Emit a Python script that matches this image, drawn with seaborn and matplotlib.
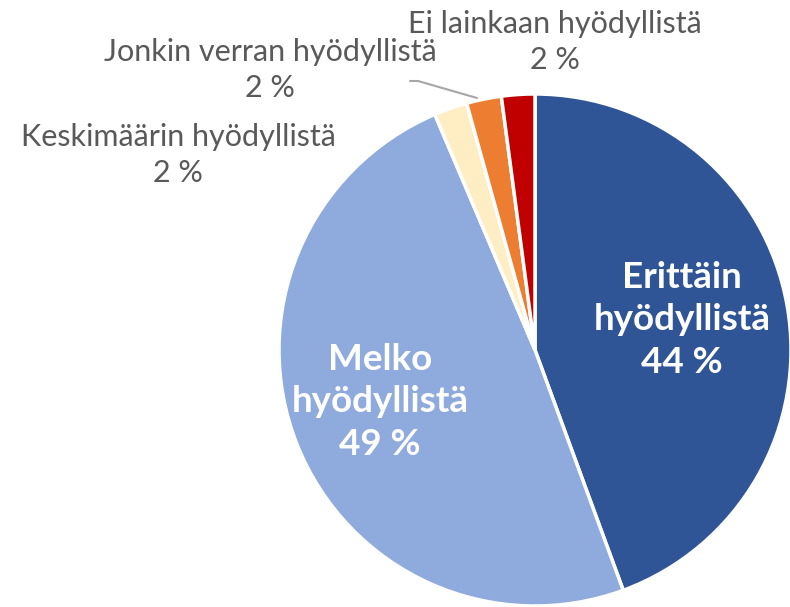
import matplotlib
matplotlib.use("Agg")
import matplotlib.pyplot as plt
import seaborn as sns

categories = ["Erittäin hyödyllistä", "Melko hyödyllistä", "Keskimäärin hyödyllistä",
              "Jonkin verran hyödyllistä", "Ei lainkaan hyödyllistä"]
values = [44.4, 49.2, 2.1, 2.2, 2.1]
colors = ["#2F5597", "#8FAADC", "#FFEEC4", "#ED7D31", "#C00000"]

sns.set_theme(style="white")
plt.rcParams["font.family"] = ["Lato", "DejaVu Sans"]

W, H = 790, 607
fig = plt.figure(figsize=(W / 100, H / 100), dpi=100)
ax = fig.add_axes([0, 0, 1, 1])

CX, CY, R = 535, 350, 256
def px(x, y):
    return (x - CX) / R, (CY - y) / R

ax.pie(values, colors=colors, startangle=90, counterclock=False, radius=1,
       center=(0, 0), wedgeprops=dict(edgecolor="white", linewidth=2.5))
ax.set_xlim((0 - CX) / R, (W - CX) / R)
ax.set_ylim((CY - H) / R, CY / R)
ax.set_aspect("auto")
ax.axis("off")

pct = [f"{round(v)} %" for v in values]

# inside labels (bold white)
inside = {0: ("Erittäin\nhyödyllistä", 682, 320), 1: ("Melko\nhyödyllistä", 380, 402)}
for i, (txt, x, y) in inside.items():
    ax.text(*px(x, y), f"{txt}\n{pct[i]}", color="white", fontsize=26.5,
            fontweight="bold", ha="center", va="center", linespacing=1.35)

# outside labels (gray)
outside = {2: ("Keskimäärin hyödyllistä", 178, 155),
           3: ("Jonkin verran hyödyllistä", 270, 70),
           4: ("Ei lainkaan hyödyllistä", 555, 42)}
for i, (txt, x, y) in outside.items():
    ax.text(*px(x, y), f"{txt}\n{pct[i]}", color="#595959", fontsize=22,
            ha="center", va="center", linespacing=1.32)

# leader line for "Jonkin verran"
lx = [px(410, 81)[0], px(418, 81)[0], px(477, 98)[0]]
ly = [px(410, 81)[1], px(418, 81)[1], px(477, 98)[1]]
ax.plot(lx, ly, color="#A6A6A6", lw=1.5)

fig.savefig("out.png", dpi=100)
